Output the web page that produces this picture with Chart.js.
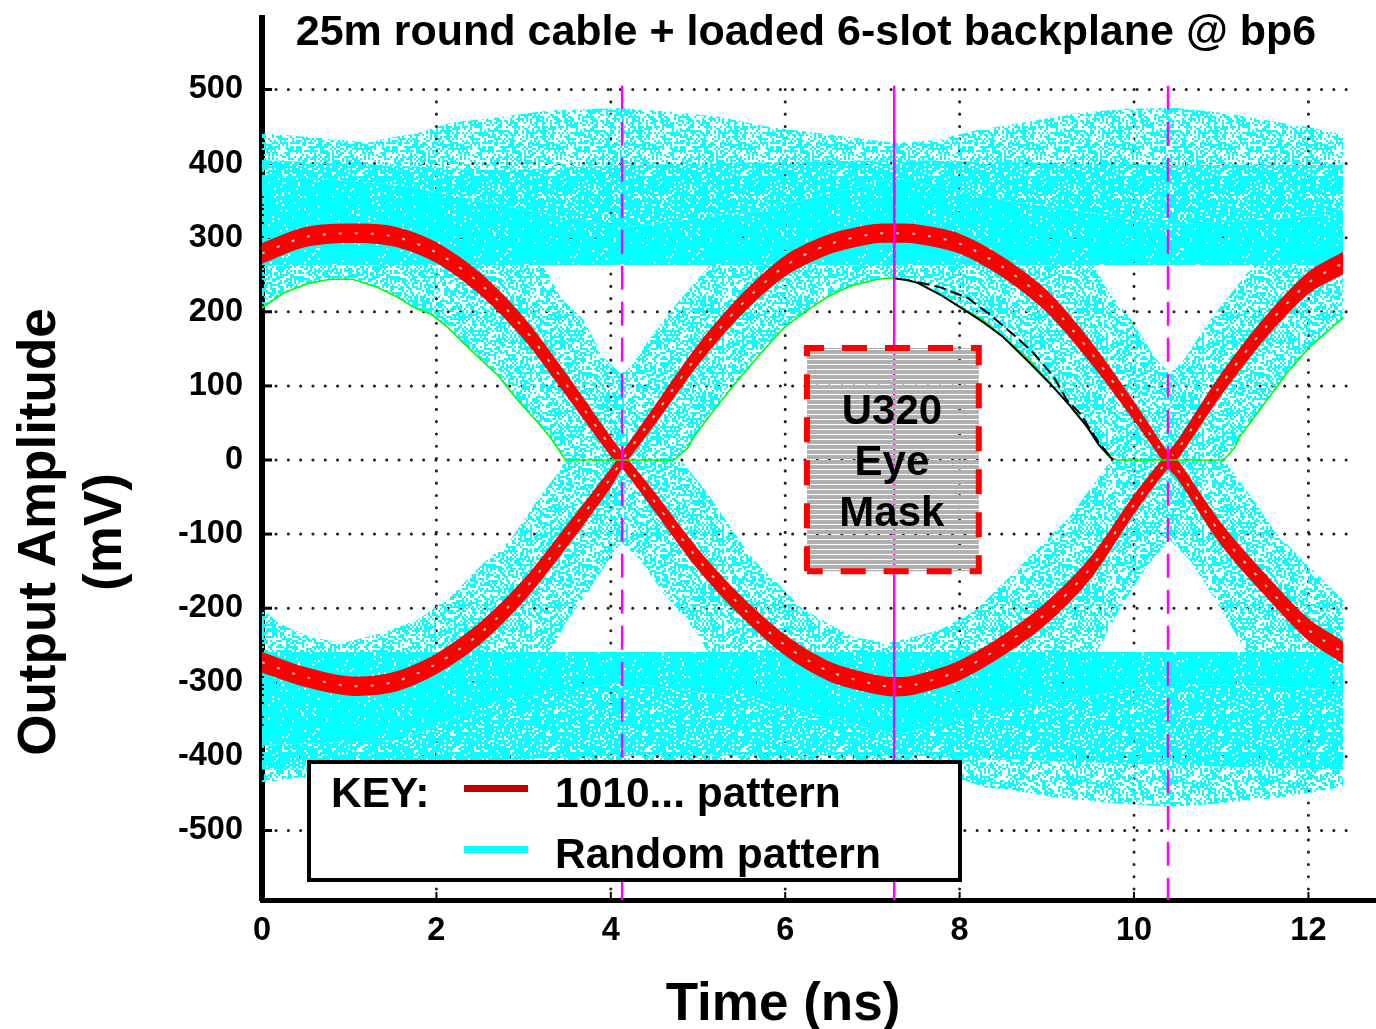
<!DOCTYPE html>
<html><head><meta charset="utf-8">
<script src="https://cdn.jsdelivr.net/npm/chart.js@4"></script>
<style>html,body{margin:0;padding:0;background:#fff}canvas{display:block}</style>
</head><body><canvas id="c" width="1376" height="1029"></canvas>
<script>
const chartTitle = "25m round cable + loaded 6-slot backplane @ bp6";
const xTitle = "Time (ns)";
const yTitleLines = ["Output Amplitude", "(mV)"];
const maskLines = ["U320", "Eye", "Mask"];
const legendKey = "KEY:";
const legendNames = ["1010... pattern", "Random pattern"];
const xTicks = [0, 2, 4, 6, 8, 10, 12];
const yTicks = [500, 400, 300, 200, 100, 0, -100, -200, -300, -400, -500];

// 1010... pattern
const patX = [0,.5,1,1.5,2,2.5,3,3.5,4,4.13,4.5,5,5.5,6,6.5,7,7.25,7.5,8,8.5,9,9.5,10,10.39,10.5,11,11.5,12,12.4];
const patA = [279,301,306,302,280,238,178,100,18,0,-56,-134,-198,-250,-285,-302,-306,-303,-284,-250,-206,-146,-60,0,14,102,178,239,266];
const patB = [-273,-293,-305,-300,-275,-234,-176,-102,-24,0,60,142,210,262,291,305,306,305,292,260,214,146,66,0,-13,-100,-168,-229,-260];
const patHalf = [14,13.5,13,13.5,14,15,15,15,13,11,13,14,14,14,13.5,13,13,13,13.5,14,15,15,13,11,13,15,15,15,15];

// Random pattern outlines
const topX = [0,.64,1.21,1.47,1.78,2.16,2.73,3.31,4.13,4.68,5.26,5.83,6.4,6.98,7.28,7.74,8.19,8.77,9.34,9.91,10.49,11.06,11.63,12.01,12.4];
const topY = [441,435,428,435,441,455,463,472,475,470,463,449,441,432,428,432,445,456,468,474,475,468,456,449,439];
const botX = [0,.21,.44,1.5,2.5,4.13,7.25,8.04,8.32,8.57,9.14,9.72,10.41,11.06,11.63,12.01,12.4];
const botY = [-436,-432,-428,-440,-460,-466,-425,-432,-443,-445,-456,-463,-468,-463,-456,-449,-441];
const railX = [0, 12.4];
const railUpper = [263, 263];
const railLower = [-259, -259];
const upMedX = [0,2.73,4.13,7.25,10.39,12.4];
const upMedY = [405,391,398,405,398,398];
const coreX = [0,1.58,2.73,4.13,5.72,7.25,8.5,10.39,12.4];
const upCoreY = [385,371,344,313,337,381,351,317,331];
const lowCoreY = [-385,-378,-324,-300,-324,-371,-337,-301,-310];
const lowMedX = [0,4.13,7.25,10.39,12.4];
const lowMedY = [-418,-398,-398,-412,-418];
const wingTopX = [0,3.23,3.42,3.69,3.91,4.11,4.19,4.49,4.76,5.14,9.53,9.72,10,10.23,10.41,10.57,10.87,11.37,12.4];
const wingTopY = [263,263,220,189,139,117,121,171,212,263,263,225,185,139,117,135,189,263,263];
const wingBotX = [0,3.31,3.5,3.73,4,4.13,4.34,4.6,4.99,5.11,9.57,9.83,10.14,10.41,10.64,10.98,11.29,12.4];
const wingBotY = [-259,-259,-216,-179,-131,-112,-135,-179,-233,-259,-259,-202,-144,-108,-135,-198,-259,-259];
const lowEyeX = [0,.24,.55,.93,1.39,1.78,2.16,2.54,2.85,3.16,3.39,3.48,4.8,5.11,5.37,5.64,5.95,6.17,6.48,6.78,7.17,7.47,7.78,8.19,8.57,8.96,9.26,9.46,9.68,9.76,11.03,11.37,11.63,12.01,12.4];
const lowEyeY = [-202,-223,-239,-247,-233,-216,-185,-139,-108,-54,-18,0,0,-45,-90,-135,-171,-198,-220,-239,-247,-239,-229,-202,-158,-112,-77,-45,-9,0,0,-54,-99,-144,-189];

// Green worst-case curve
const greenX = [0,.24,.52,.78,1.04,1.32,1.55,1.74,1.95,2.13,2.31,2.54,2.7,2.93,3.16,3.31,3.48,4.72,4.88,4.95,5.18,5.43,5.72,5.98,6.25,6.48,6.75,7.06,7.24,7.52,7.78,8.01,8.27,8.5,8.77,9.03,9.26,9.46,9.6,9.72,9.8,11.03,11.15,11.21,11.48,11.75,12.01,12.3,12.4];
const greenY = [205,225,238,244,244,233,220,206,196,179,158,132,115,81,51,30,0,0,16,31,67,104,144,178,202,220,235,244,246,239,223,206,189,166,139,105,74,45,20,4,0,0,16,31,74,117,152,182,192];

// Black traces
const blackSolidX = [7.25,7.25,7.4,7.52,7.78,8.01,8.27,8.5,8.77,9.03,9.26,9.46,9.6,9.76];
const blackSolidY = [400,245,243,239,223,206,186,166,135,104,74,45,20,0];
const blackDashX = [7.52,7.78,8.09,8.35,8.65,8.85,9.08,9.23,9.38,9.6,9.74];
const blackDashY = [240,233,219,196,166,144,112,81,63,23,3];

// Markers and mask
const markerX = [4.13, 7.25, 10.39];
const markerSpan = [505, -594];
const maskX = [6.25,6.25,8.22,8.22,6.25];
const maskY = [-150,151,151,-150,-150];

const CYAN = '#00FFFF', RED = '#FF0000', MAGENTA = '#FF00FF';
const FONT = '"Liberation Sans", Arial, sans-serif';

function stipple(limit, a, b) {
  const cell = 2, n = 48, t = document.createElement('canvas');
  t.width = t.height = n * cell;
  const g = t.getContext('2d');
  g.fillStyle = CYAN; g.fillRect(0, 0, t.width, t.height);
  for (let i = 0; i < n; i++) for (let j = 0; j < n; j++) {
    const h = ((i * a) ^ (j * b) ^ (i * j * 31)) >>> 0;
    if ((h % 101) < limit) g.clearRect(i * cell, j * cell, cell, cell);
  }
  return g.createPattern(t, 'repeat');
}
function stripes() {
  const t = document.createElement('canvas'); t.width = 4; t.height = 5;
  const g = t.getContext('2d');
  g.fillStyle = '#B0B0B0'; g.fillRect(0, 0, 4, 4);
  return g.createPattern(t, 'repeat');
}
const pts = (xs, ys) => xs.map((x, i) => ({x, y: ys[i]}));
const base = {pointRadius: 0, pointHoverRadius: 0, borderWidth: 0, borderColor: 'rgba(0,0,0,0)', tension: 0, fill: false};

const paint = [];
function band(label, upper, lower, bg, tension) {
  paint.push({...base, label: label + ' lower', data: lower, tension: tension || 0});
  paint.push({...base, label, data: upper, fill: '+1', backgroundColor: bg, tension: tension || 0});
}
function line(label, data, color, width, dash) {
  paint.push({...base, label, data, borderColor: color, borderWidth: width, borderDash: dash || []});
}
const light = stipple(50, 7919, 104729), medium = stipple(19, 6151, 12289), dense = stipple(5, 3571, 9973), wing = stipple(45, 2749, 15013);

band('Random upper outer', pts(topX, topY), pts(upMedX, upMedY), light);
band('Random upper mid', pts(upMedX, upMedY), pts(coreX, upCoreY), medium);
band('Random upper core', pts(coreX, upCoreY), pts(railX, railUpper), dense);
band('Random lower outer', pts(lowMedX, lowMedY), pts(botX, botY), light);
band('Random lower mid', pts(coreX, lowCoreY), pts(lowMedX, lowMedY), medium);
band('Random lower core', pts(railX, railLower), pts(coreX, lowCoreY), dense);
band('Random upper wing', pts(wingTopX, wingTopY), pts(greenX, greenY), wing);
band('Random lower wing', pts(lowEyeX, lowEyeY), pts(wingBotX, wingBotY), wing);

for (const [name, c] of [['A', patA], ['B', patB]]) {
  band('1010 ' + name, patX.map((x, i) => ({x, y: c[i] + patHalf[i]})), patX.map((x, i) => ({x, y: c[i] - patHalf[i]})), RED, 0.3);
  paint.push({...base, label: '1010 centre ' + name, data: pts(patX, c), borderColor: '#9fcaca', borderWidth: 2, borderDash: [3, 13], tension: 0.3});
}
line('Green limit', pts(greenX, greenY), '#00FF00', 1.6);
line('Black trace', pts(blackSolidX, blackSolidY), '#000', 2);
line('Black trace dashed', pts(blackDashX, blackDashY), '#000', 2, [12, 5]);
line('Marker left', pts([markerX[0], markerX[0]], markerSpan), MAGENTA, 2.5, [24, 12]);
line('Marker centre', pts([markerX[1], markerX[1]], markerSpan), MAGENTA, 2.5);
line('Marker right', pts([markerX[2], markerX[2]], markerSpan), MAGENTA, 2.5, [24, 12]);
paint.push({...base, label: 'U320 Eye Mask', data: pts(maskX, maskY), fill: 'shape', backgroundColor: stripes(), borderColor: RED, borderWidth: 6, borderDash: [25, 18]});

const gridPlugin = {
  id: 'grid',
  beforeDatasetsDraw(ch) {
    const {ctx, scales: {x, y}, chartArea: a} = ch;
    ctx.save();
    ctx.strokeStyle = '#222'; ctx.lineWidth = 3; ctx.lineCap = 'round';
    ctx.setLineDash([0.1, 12.2]);
    const xEnd = x.getPixelForValue(12.5), yTop = y.getPixelForValue(500);
    yTicks.forEach(v => { const p = y.getPixelForValue(v); ctx.beginPath(); ctx.moveTo(a.left + 14, p); ctx.lineTo(xEnd, p); ctx.stroke(); });
    xTicks.slice(1).forEach(v => { const p = x.getPixelForValue(v); ctx.beginPath(); ctx.moveTo(p, yTop); ctx.lineTo(p, a.bottom - 8); ctx.stroke(); });
    ctx.setLineDash([]); ctx.strokeStyle = '#000'; ctx.lineCap = 'butt';
    yTicks.forEach(v => { const p = y.getPixelForValue(v); ctx.lineWidth = 3; ctx.beginPath(); ctx.moveTo(a.left, p); ctx.lineTo(a.left + 10, p); ctx.stroke(); });
    xTicks.slice(1).forEach(v => { const p = x.getPixelForValue(v); ctx.lineWidth = 2; ctx.beginPath(); ctx.moveTo(p, a.bottom); ctx.lineTo(p, a.bottom - 8); ctx.stroke(); });
    ctx.restore();
  }
};
const textPlugin = {
  id: 'texts',
  afterDraw(ch) {
    const {ctx, scales: {x, y}} = ch;
    ctx.save();
    ctx.fillStyle = '#000'; ctx.textBaseline = 'middle'; ctx.textAlign = 'center';
    ctx.font = 'bold 43px ' + FONT;
    ctx.fillText(chartTitle, 806, 33);
    ctx.font = 'bold 53px ' + FONT;
    ctx.fillText(xTitle, 783, 1005);
    ctx.save(); ctx.translate(40, 532); ctx.rotate(-Math.PI / 2); ctx.fillText(yTitleLines[0], 0, 0); ctx.restore();
    ctx.save(); ctx.translate(106, 532); ctx.rotate(-Math.PI / 2); ctx.fillText(yTitleLines[1], 0, 0); ctx.restore();
    ctx.font = 'bold 42px ' + FONT;
    const cx = x.getPixelForValue((maskX[0] + maskX[2]) / 2);
    [412, 463, 514].forEach((py, i) => ctx.fillText(maskLines[i], cx - 1, py));
    // key box
    ctx.fillStyle = '#fff'; ctx.fillRect(309, 762, 651, 118);
    ctx.strokeStyle = '#000'; ctx.lineWidth = 4; ctx.strokeRect(309, 762, 651, 118);
    ctx.fillStyle = '#C00000'; ctx.fillRect(464, 785, 64, 7);
    ctx.fillStyle = CYAN; ctx.fillRect(464, 846, 64, 7);
    ctx.fillStyle = '#000'; ctx.textAlign = 'left';
    ctx.font = 'bold 42.5px ' + FONT;
    ctx.fillText(legendKey, 331, 795);
    ctx.fillText(legendNames[0], 555, 795);
    ctx.fillText(legendNames[1], 555, 856);
    ctx.restore();
  }
};
const tickFont = {family: FONT, size: 32.5, weight: 'bold'};
new Chart(document.getElementById('c'), {
  type: 'line',
  data: {datasets: paint.slice().reverse()},
  plugins: [gridPlugin, textPlugin],
  options: {
    responsive: false, animation: false, events: [],
    layout: {autoPadding: false, padding: {top: 18, left: 0, right: 0, bottom: 0}},
    plugins: {legend: {display: false}, title: {display: false}, tooltip: {enabled: false}},
    scales: {
      x: {type: 'linear', min: 0, max: 12.775,
        afterBuildTicks(s) { s.ticks = xTicks.map(value => ({value})); },
        afterFit(s) { s.height = 129; s.paddingLeft = 0; s.paddingRight = 0; },
        grid: {display: false}, border: {display: true, color: '#000', width: 5},
        ticks: {color: '#000', font: tickFont, padding: 4, maxRotation: 0, autoSkip: false}},
      y: {type: 'linear', min: -593.8, max: 596.5,
        afterBuildTicks(s) { s.ticks = yTicks.map(value => ({value})); },
        afterFit(s) { s.width = 262; s.paddingTop = 0; s.paddingBottom = 0; },
        grid: {display: false}, border: {display: true, color: '#000', width: 6},
        ticks: {color: '#000', font: tickFont, padding: 11, autoSkip: false}}
    }
  }
});
</script></body></html>
